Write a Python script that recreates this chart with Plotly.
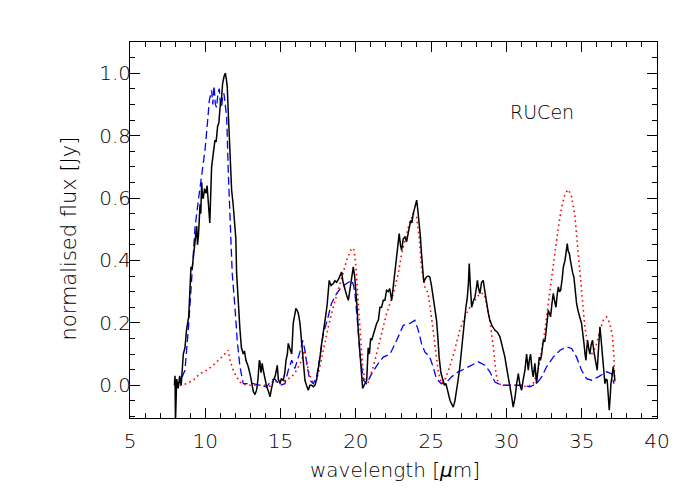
import plotly.graph_objects as go

# Observed spectrum (black)
obs_x = [7.95, 7.99, 8.02, 8.1, 8.2, 8.3, 8.4, 8.54, 8.65, 8.76, 8.9, 9.05, 9.12, 9.2, 9.3, 9.43, 9.48, 9.54, 9.6, 9.65, 9.7, 9.76, 9.82, 9.87, 9.95, 10.05, 10.12, 10.2, 10.3, 10.42, 10.52, 10.64, 10.72, 10.82, 10.9, 10.98, 11.08, 11.15, 11.25, 11.33, 11.4, 11.46, 11.53, 11.6, 11.68, 11.75, 11.85, 11.97, 12.03, 12.08, 12.2, 12.3, 12.4, 12.52, 12.6, 12.7, 12.85, 13.0, 13.19, 13.3, 13.41, 13.5, 13.59, 13.63, 13.7, 13.78, 13.85, 13.95, 14.08, 14.2, 14.3, 14.4, 14.52, 14.65, 14.78, 14.85, 14.96, 15.05, 15.18, 15.28, 15.36, 15.45, 15.51, 15.6, 15.74, 15.84, 15.92, 16.02, 16.1, 16.18, 16.29, 16.38, 16.47, 16.55, 16.62, 16.72, 16.84, 16.95, 17.06, 17.18, 17.28, 17.4, 17.5, 17.62, 17.73, 17.85, 17.95, 18.02, 18.1, 18.17, 18.23, 18.35, 18.5, 18.6, 18.72, 18.85, 18.95, 19.05, 19.15, 19.28, 19.38, 19.5, 19.6, 19.72, 19.83, 19.92, 20.0, 20.08, 20.16, 20.25, 20.32, 20.45, 20.55, 20.65, 20.72, 20.78, 20.82, 20.9, 20.98, 21.05, 21.15, 21.25, 21.38, 21.5, 21.6, 21.71, 21.82, 21.93, 22.04, 22.15, 22.25, 22.38, 22.5, 22.6, 22.75, 22.88, 22.96, 23.04, 23.15, 23.26, 23.37, 23.48, 23.56, 23.64, 23.72, 23.81, 23.92, 24.04, 24.12, 24.2, 24.28, 24.36, 24.44, 24.51, 24.6, 24.69, 24.8, 24.91, 25.02, 25.13, 25.25, 25.36, 25.45, 25.53, 25.65, 25.76, 25.88, 25.98, 26.1, 26.25, 26.36, 26.47, 26.58, 26.7, 26.8, 26.91, 27.02, 27.13, 27.22, 27.31, 27.4, 27.48, 27.53, 27.6, 27.69, 27.8, 27.91, 28.0, 28.07, 28.15, 28.24, 28.35, 28.46, 28.57, 28.68, 28.8, 28.9, 29.05, 29.24, 29.4, 29.57, 29.75, 29.9, 30.0, 30.12, 30.23, 30.35, 30.45, 30.57, 30.68, 30.79, 30.9, 31.01, 31.12, 31.23, 31.34, 31.45, 31.52, 31.6, 31.7, 31.78, 31.89, 32.0, 32.1, 32.18, 32.26, 32.34, 32.45, 32.55, 32.62, 32.7, 32.78, 32.86, 32.93, 33.02, 33.11, 33.2, 33.29, 33.37, 33.45, 33.52, 33.6, 33.7, 33.78, 33.89, 33.96, 34.04, 34.1, 34.18, 34.25, 34.33, 34.4, 34.48, 34.57, 34.66, 34.75, 34.84, 34.92, 34.99, 35.07, 35.15, 35.22, 35.28, 35.34, 35.39, 35.46, 35.54, 35.63, 35.72, 35.8, 35.88, 35.96, 36.03, 36.12, 36.21, 36.3, 36.39, 36.46, 36.54, 36.62, 36.69, 36.76, 36.83, 36.9, 36.94, 37.02, 37.09, 37.15, 37.2]
obs_y = [0.0, 0.03, -0.12, 0.02, -0.01, 0.03, 0.0, 0.10, 0.12, 0.18, 0.22, 0.38, 0.37, 0.41, 0.45, 0.51, 0.45, 0.475, 0.53, 0.58, 0.55, 0.65, 0.60, 0.60, 0.63, 0.615, 0.64, 0.58, 0.52, 0.70, 0.74, 0.785, 0.78, 0.83, 0.84, 0.89, 0.92, 0.967, 0.99, 1.0, 0.98, 0.956, 0.87, 0.785, 0.70, 0.625, 0.58, 0.49, 0.47, 0.36, 0.25, 0.18, 0.12, 0.10, 0.11, 0.08, 0.06, 0.03, -0.02, -0.03, -0.015, 0.02, 0.08, 0.075, 0.04, 0.07, 0.048, 0.02, -0.005, -0.02, -0.037, -0.01, 0.016, 0.03, 0.064, 0.02, 0.006, 0.02, 0.016, 0.04, 0.08, 0.10, 0.134, 0.12, 0.10, 0.198, 0.22, 0.246, 0.24, 0.23, 0.198, 0.15, 0.10, 0.05, 0.016, 0.0, -0.016, 0.0, 0.0, -0.005, 0.0, 0.02, 0.048, 0.09, 0.134, 0.17, 0.208, 0.23, 0.262, 0.30, 0.336, 0.32, 0.326, 0.335, 0.33, 0.34, 0.35, 0.363, 0.33, 0.304, 0.29, 0.272, 0.31, 0.347, 0.379, 0.35, 0.304, 0.25, 0.176, 0.11, 0.06, -0.01, 0.0, 0.01, 0.016, 0.08, 0.12, 0.10, 0.15, 0.144, 0.16, 0.18, 0.198, 0.21, 0.25, 0.25, 0.272, 0.272, 0.304, 0.30, 0.31, 0.272, 0.32, 0.358, 0.42, 0.486, 0.45, 0.432, 0.47, 0.475, 0.46, 0.49, 0.51, 0.528, 0.52, 0.55, 0.57, 0.593, 0.56, 0.528, 0.48, 0.422, 0.37, 0.33, 0.34, 0.347, 0.35, 0.347, 0.32, 0.283, 0.25, 0.208, 0.15, 0.09, 0.04, 0.016, 0.0, 0.006, -0.02, -0.048, -0.06, -0.07, -0.05, -0.016, 0.02, 0.06, 0.12, 0.176, 0.21, 0.25, 0.28, 0.33, 0.39, 0.32, 0.25, 0.27, 0.283, 0.31, 0.336, 0.31, 0.294, 0.33, 0.336, 0.30, 0.262, 0.23, 0.208, 0.19, 0.176, 0.17, 0.155, 0.12, 0.09, 0.06, 0.027, 0.005, -0.037, -0.07, -0.04, 0.005, 0.037, 0.0, -0.016, 0.02, 0.048, 0.10, 0.048, 0.08, 0.10, 0.05, 0.027, 0.07, 0.005, 0.05, 0.09, 0.08, 0.10, 0.144, 0.14, 0.166, 0.20, 0.24, 0.23, 0.219, 0.26, 0.294, 0.27, 0.25, 0.29, 0.315, 0.30, 0.304, 0.34, 0.379, 0.40, 0.43, 0.454, 0.43, 0.422, 0.40, 0.369, 0.36, 0.347, 0.30, 0.262, 0.24, 0.219, 0.21, 0.198, 0.17, 0.134, 0.10, 0.08, 0.12, 0.144, 0.12, 0.10, 0.13, 0.144, 0.11, 0.09, 0.07, 0.048, 0.12, 0.187, 0.14, 0.09, 0.04, 0.005, 0.02, 0.016, -0.03, -0.08, -0.03, 0.005, 0.03, 0.06, 0.04, 0.016]

# Model 1 (blue dashed)
mod1_x = [7.99, 8.32, 8.65, 8.87, 9.09, 9.32, 9.54, 9.76, 9.98, 10.14, 10.27, 10.42, 10.5, 10.58, 10.67, 10.75, 10.85, 10.93, 11.0, 11.08, 11.16, 11.24, 11.33, 11.42, 11.53, 11.64, 11.79, 11.97, 12.12, 12.3, 12.52, 13.19, 13.63, 14.08, 14.41, 14.63, 14.96, 15.29, 15.51, 15.74, 15.95, 16.12, 16.29, 16.47, 16.62, 16.77, 16.95, 17.17, 17.39, 17.61, 17.84, 18.1, 18.38, 18.72, 19.05, 19.39, 19.72, 19.85, 19.94, 20.1, 20.27, 20.5, 20.72, 21.05, 21.49, 21.82, 22.27, 22.71, 23.15, 23.59, 23.92, 24.15, 24.36, 24.58, 24.91, 25.13, 25.35, 25.68, 26.02, 26.36, 26.8, 27.24, 27.69, 28.13, 28.57, 28.9, 29.24, 29.68, 30.45, 31.12, 31.56, 32.0, 32.34, 32.67, 33.11, 33.56, 34.0, 34.33, 34.66, 34.99, 35.32, 35.66, 36.1, 36.65, 36.98, 37.14]
mod1_y = [-0.005, 0.01, 0.048, 0.176, 0.336, 0.507, 0.593, 0.68, 0.753, 0.839, 0.913, 0.945, 0.90, 0.96, 0.90, 0.89, 0.94, 0.95, 0.90, 0.89, 0.93, 0.935, 0.90, 0.86, 0.68, 0.54, 0.358, 0.25, 0.144, 0.06, 0.005, 0.005, 0.0, -0.005, 0.016, 0.02, 0.0, 0.005, 0.048, 0.08, 0.054, 0.08, 0.107, 0.144, 0.112, 0.059, 0.016, 0.005, 0.027, 0.09, 0.166, 0.208, 0.262, 0.294, 0.315, 0.326, 0.336, 0.32, 0.294, 0.208, 0.10, 0.016, 0.005, 0.037, 0.07, 0.09, 0.10, 0.144, 0.192, 0.198, 0.208, 0.176, 0.134, 0.107, 0.09, 0.059, 0.021, 0.005, 0.01, 0.027, 0.043, 0.053, 0.064, 0.075, 0.064, 0.043, 0.01, 0.0, 0.0, 0.0, -0.005, 0.005, 0.027, 0.059, 0.09, 0.112, 0.123, 0.118, 0.09, 0.048, 0.021, 0.016, 0.027, 0.043, 0.037, 0.005]

# Model 2 (red dotted)
mod2_x = [7.99, 8.32, 8.76, 9.2, 9.65, 10.09, 10.53, 10.98, 11.31, 11.53, 11.64, 11.86, 12.08, 12.3, 12.74, 13.19, 14.1, 14.3, 14.52, 14.96, 15.4, 15.74, 16.07, 16.4, 16.58, 16.73, 16.9, 17.13, 17.39, 17.61, 17.84, 18.17, 18.5, 18.83, 19.17, 19.39, 19.66, 19.8, 19.88, 20.01, 20.12, 20.27, 20.45, 20.6, 20.82, 21.16, 21.49, 21.82, 22.04, 22.49, 22.82, 23.04, 23.26, 23.55, 23.81, 24.04, 24.2, 24.36, 24.58, 24.8, 25.02, 25.24, 25.46, 25.68, 25.9, 26.23, 26.56, 26.9, 27.24, 27.57, 27.9, 28.24, 28.5, 28.68, 28.9, 29.13, 29.31, 29.46, 29.79, 30.85, 31.34, 31.78, 32.1, 32.34, 32.56, 32.78, 33.0, 33.23, 33.45, 33.67, 33.89, 34.11, 34.33, 34.55, 34.77, 34.99, 35.21, 35.43, 35.66, 35.94, 36.21, 36.43, 36.65, 36.87, 37.05, 37.14, 37.2]
mod2_y = [-0.005, 0.0, 0.005, 0.016, 0.037, 0.048, 0.064, 0.085, 0.10, 0.112, 0.08, 0.048, 0.027, 0.01, 0.0, 0.0, 0.0, -0.003, 0.016, 0.005, 0.016, 0.027, 0.048, 0.08, 0.112, 0.08, 0.037, 0.01, 0.016, 0.059, 0.112, 0.187, 0.25, 0.304, 0.358, 0.40, 0.433, 0.44, 0.433, 0.379, 0.294, 0.176, 0.059, 0.016, 0.01, 0.059, 0.123, 0.187, 0.23, 0.294, 0.358, 0.422, 0.465, 0.518, 0.55, 0.54, 0.475, 0.379, 0.315, 0.294, 0.219, 0.123, 0.048, 0.005, 0.016, 0.059, 0.112, 0.176, 0.219, 0.25, 0.272, 0.294, 0.294, 0.262, 0.208, 0.123, 0.037, 0.005, 0.0, 0.0, -0.005, 0.005, 0.048, 0.112, 0.176, 0.262, 0.347, 0.433, 0.507, 0.571, 0.614, 0.627, 0.604, 0.54, 0.433, 0.304, 0.187, 0.123, 0.10, 0.123, 0.176, 0.208, 0.219, 0.198, 0.155, 0.09, 0.005]

label_text = "RUCen"
x_title = "wavelength [<i>μ</i>m]"
y_title = "normalised flux [Jy]"
x_ticks = [5, 10, 15, 20, 25, 30, 35, 40]
y_ticks = [0.0, 0.2, 0.4, 0.6, 0.8, 1.0]

FONT = "DejaVu Sans"
TXT = "#000000"

fig = go.Figure()
fig.add_trace(go.Scatter(x=mod1_x, y=mod1_y, mode="lines",
                         line=dict(color="#0000ff", width=1.3, dash="8px,4px")))
fig.add_trace(go.Scatter(x=mod2_x, y=mod2_y, mode="lines",
                         line=dict(color="#ff0000", width=1.6, dash="1.6px,3.4px")))
fig.add_trace(go.Scatter(x=obs_x, y=obs_y, mode="lines",
                         line=dict(color="black", width=1.5)))

fig.add_annotation(x=32.36, y=0.875, text=label_text, showarrow=False,
                   font=dict(family=FONT, size=19, color=TXT, weight=300))

# axis titles placed as annotations for exact positioning
fig.add_annotation(xref="paper", yref="paper", x=0.503, y=-0.138, text=x_title,
                   showarrow=False, xanchor="center", yanchor="middle",
                   font=dict(family=FONT, size=20, color=TXT, weight=300))
fig.add_annotation(xref="paper", yref="paper", x=-0.116, y=0.477, text=y_title,
                   showarrow=False, xanchor="center", yanchor="middle", textangle=-90,
                   font=dict(family=FONT, size=21, color=TXT, weight=300))

axis_common = dict(
    showgrid=False, zeroline=False, showline=True, linecolor="black", linewidth=1,
    mirror="ticks", ticks="inside", ticklen=10, tickcolor="black", tickwidth=1,
    tickfont=dict(family=FONT, size=20, color=TXT, weight=300),
)
fig.update_xaxes(range=[5, 40], tickvals=x_ticks, ticktext=[str(v) for v in x_ticks],
                 minor=dict(dtick=1, ticklen=5, ticks="inside", tickcolor="black"),
                 ticklabelstandoff=5,
                 **axis_common)
fig.update_yaxes(range=[-0.105, 1.1], tickvals=y_ticks, ticktext=[f"{v:.1f}" for v in y_ticks],
                 minor=dict(dtick=0.05, tick0=0, ticklen=5, ticks="inside", tickcolor="black"),
                 ticklabelstandoff=-6,
                 **axis_common)

# the page body adds an 8px offset, so the figure is sized/margined to compensate
fig.update_layout(
    width=692, height=492,
    margin=dict(l=122, r=43, t=34, b=82, autoexpand=False),
    paper_bgcolor="white", plot_bgcolor="white",
    showlegend=False,
)

fig.write_html("out.html")
